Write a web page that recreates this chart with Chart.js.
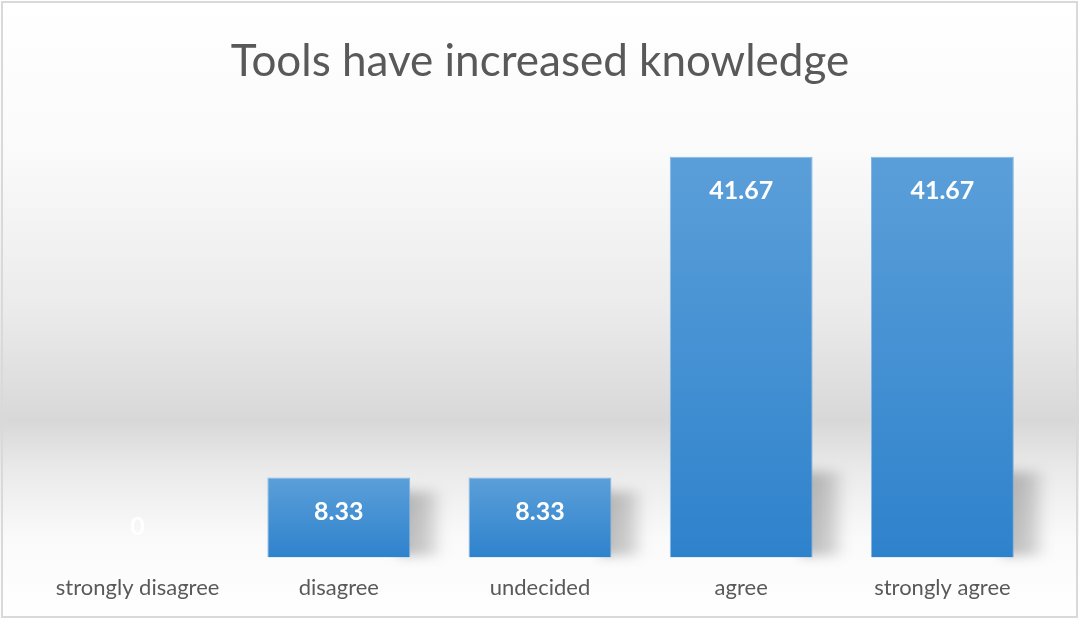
<!DOCTYPE html>
<html>
<head>
<meta charset="utf-8">
<script src="https://cdn.jsdelivr.net/npm/chart.js@4/dist/chart.umd.min.js"></script>
<style>
  html, body { margin: 0; padding: 0; background: #ffffff; }
  #wrap { width: 1079px; height: 619px; position: relative; }
</style>
</head>
<body>
<div id="wrap"><canvas id="c" width="1079" height="619"></canvas></div>
<script>
const chartTitle = "Tools have increased knowledge";
const categories = ["strongly disagree", "disagree", "undecided", "agree", "strongly agree"];
const values = [0, 8.33, 8.33, 41.67, 41.67];
const valueLabels = ["0", "8.33", "8.33", "41.67", "41.67"];
const yMax = 45;

const FONT = "Lato, 'Open Sans', sans-serif";

const backgroundPlugin = {
  id: 'bg',
  beforeDraw(chart) {
    const { ctx, width, height } = chart;
    ctx.save();
    const g = ctx.createLinearGradient(0, 0, 0, height);
    g.addColorStop(0, '#ffffff');
    g.addColorStop(0.25, '#fafafa');
    g.addColorStop(0.5, '#ebebeb');
    g.addColorStop(0.68, '#d8d8d8');
    g.addColorStop(0.76, '#eaeaea');
    g.addColorStop(0.87, '#fafafa');
    g.addColorStop(1, '#ffffff');
    ctx.fillStyle = g;
    ctx.fillRect(0, 0, width, height);
    ctx.strokeStyle = '#d9d9d9';
    ctx.lineWidth = 2;
    ctx.strokeRect(2, 2, width - 4, height - 4);
    ctx.restore();
  }
};

const shadowPlugin = {
  id: 'groundShadow',
  beforeDatasetsDraw(chart) {
    const { ctx } = chart;
    const meta = chart.getDatasetMeta(0);
    ctx.save();
    meta.data.forEach((el, i) => {
      if (!values[i]) return;
      const right = el.x + el.width / 2;
      const base = el.base;
      const top = Math.max(el.y, base - 100);
      const start = right - 12;
      const w = 46;
      const gh = ctx.createLinearGradient(start, 0, start + w, 0);
      gh.addColorStop(0, 'rgba(0,0,0,0.28)');
      gh.addColorStop(0.6, 'rgba(0,0,0,0.18)');
      gh.addColorStop(1, 'rgba(0,0,0,0.0)');
      ctx.fillStyle = gh;
      ctx.save();
      ctx.filter = 'blur(6px)';
      ctx.fillRect(start, top + 14, w, base - top - 16);
      ctx.restore();
    });
    ctx.restore();
  }
};

const labelPlugin = {
  id: 'valueLabels',
  afterDatasetsDraw(chart) {
    const { ctx } = chart;
    const meta = chart.getDatasetMeta(0);
    ctx.save();
    ctx.font = "bold 25px " + FONT;
    ctx.fillStyle = '#ffffff';
    ctx.textAlign = 'center';
    ctx.textBaseline = 'middle';
    meta.data.forEach((el, i) => {
      const y = values[i] > 0 ? el.y + 34 : el.base - 31;
      ctx.fillText(valueLabels[i], el.x, y);
    });
    ctx.restore();
  }
};

function barGradient(context) {
  const chart = context.chart;
  const ys = chart.scales && chart.scales.y;
  if (!chart.chartArea || !ys) return '#4a90d4';
  const v = context.raw || 0;
  const top = ys.getPixelForValue(v);
  const base = ys.getPixelForValue(0);
  if (!(base > top)) return '#4a90d4';
  const g = chart.ctx.createLinearGradient(0, top, 0, base);
  g.addColorStop(0, '#5b9fd9');
  g.addColorStop(1, '#2e82cc');
  return g;
}

new Chart(document.getElementById('c'), {
  type: 'bar',
  data: {
    labels: categories,
    datasets: [{
      data: values,
      backgroundColor: barGradient,
      borderColor: 'rgba(120,175,225,0.9)',
      borderWidth: 1,
      categoryPercentage: 1.0,
      barPercentage: 0.71
    }]
  },
  options: {
    responsive: false,
    animation: false,
    devicePixelRatio: 1,
    layout: { padding: { left: 37, right: 36, top: 0, bottom: 0 } },
    plugins: {
      legend: { display: false },
      tooltip: { enabled: false },
      title: {
        display: true,
        text: chartTitle,
        color: '#595959',
        font: { family: FONT, size: 44, weight: 'normal' },
        padding: { top: 35, bottom: 37 }
      }
    },
    scales: {
      x: {
        grid: { display: false, drawTicks: false },
        border: { display: false },
        ticks: {
          color: '#595959',
          font: { family: FONT, size: 22 },
          padding: 17.5,
          maxRotation: 0
        }
      },
      y: {
        display: false,
        min: 0,
        max: yMax
      }
    }
  },
  plugins: [backgroundPlugin, shadowPlugin, labelPlugin]
});
</script>
</body>
</html>
